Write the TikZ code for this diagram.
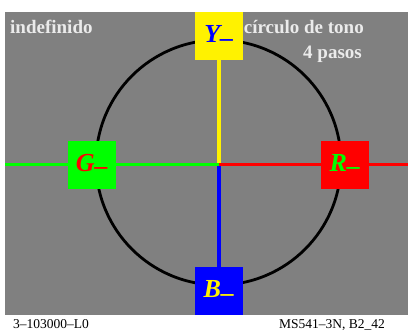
\documentclass[tikz,border=0pt]{standalone}
\usepackage{fontspec}
\setmainfont{Liberation Serif}
\begin{document}
\begin{tikzpicture}[x=1pt,y=-1pt,
  colbox/.style={minimum size=48pt,inner sep=0pt,font=\fontsize{26}{28}\selectfont\bfseries\itshape},
  hdr/.style={text=white!92!black,font=\fontsize{19}{21}\selectfont\bfseries,inner sep=0pt},
  foot/.style={font=\fontsize{13.5}{15}\selectfont,inner sep=0pt},
  ray/.style={line width=3.4pt}]
\useasboundingbox (0,0) rectangle (413,332);
\fill[white] (0,0) rectangle (413,332);
\fill[gray] (5,12) rectangle (408,315);
\coordinate (c) at (219,164.5);
\coordinate (w) at (5,164.5);
\coordinate (e) at (408,164.5);
\draw[line width=2.8pt] (218.5,162.5) circle (122.5);
\node[colbox,fill=yellow,text=blue] (Y) at (219,36) {Y$_{\textbf{–}}$};
\node[colbox,fill=green,text=red] (G) at (92,164.5) {G$_{\textbf{–}}$};
\node[colbox,fill=red,text=green] (R) at (345,164.5) {R$_{\textbf{–}}$};
\node[colbox,fill=blue,text=yellow] (B) at (219,291) {B$_{\textbf{–}}$};
\draw[yellow,ray] (c) -- (Y);
\draw[blue,ray] (c) -- (B);
\draw[green,ray] (w) -- (G) -- (c);
\draw[red,ray] (c) -- (R) -- (e);
\node[hdr,anchor=base west] (t1) at (10,34) {indefinido};
\node[hdr,anchor=base east] (t2) at (364,34) {círculo de tono};
\node[hdr,anchor=base east] (t3) at (362,58) {4 pasos};
\node[foot,anchor=base west] (f1) at (13,328) {3–103000–L0};
\node[foot,anchor=base east] (f2) at (385,328) {MS541–3N, B2\_42};
\end{tikzpicture}
\end{document}
